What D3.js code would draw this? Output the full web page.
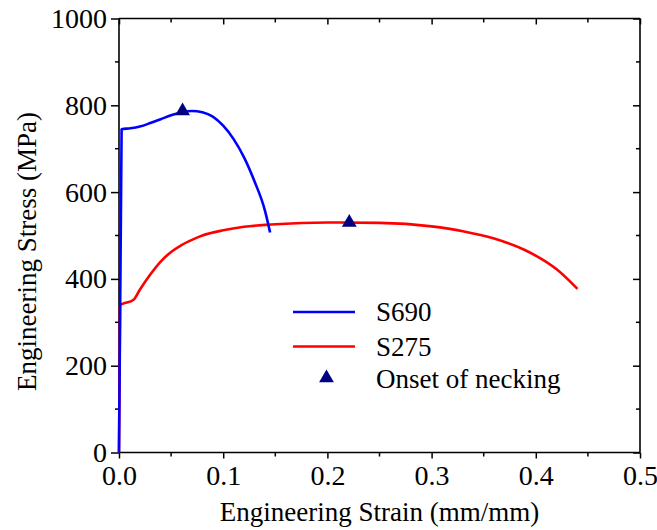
<!DOCTYPE html>
<html>
<head>
<meta charset="utf-8">
<script src="https://cdn.jsdelivr.net/npm/d3@7"></script>
<style>
  html, body { margin: 0; padding: 0; background: #fff; }
  svg { display: block; }
</style>
</head>
<body>
<svg id="chart" width="657" height="530"></svg>
<script>
// Engineering stress–strain curves for two structural steels
const s690Strain = [0, 0.0025, 0.011, 0.02, 0.03, 0.04, 0.05, 0.06, 0.07, 0.08, 0.09, 0.1, 0.11, 0.12, 0.13, 0.14, 0.145];
const s690Stress = [0, 745, 747, 751, 759, 768, 777, 784, 787, 784, 774, 753, 722, 680, 625, 558, 507];

const s275Strain = [0, 0.001, 0.004, 0.014, 0.02, 0.03, 0.04, 0.05, 0.06, 0.07, 0.08, 0.1, 0.12, 0.15, 0.2, 0.25, 0.3, 0.33, 0.36, 0.39, 0.42, 0.44];
const s275Stress = [0, 340, 343, 352, 375, 410, 440, 462, 478, 490, 500, 512, 520, 526, 530, 529, 521, 510, 493, 466, 422, 377];

// Onset of necking markers
const neckStrain = [0.061, 0.221];
const neckStress = [787, 530];

const xTicks = [0, 0.1, 0.2, 0.3, 0.4, 0.5];
const xMinor = [0.05, 0.15, 0.25, 0.35, 0.45];
const yTicks = [0, 200, 400, 600, 800, 1000];
const yMinor = [100, 300, 500, 700, 900];

const seriesNames = ["S690", "S275"];
const seriesColors = ["#0000ff", "#ff0000"];
const markerName = "Onset of necking";
const markerColor = "#000080";

const svg = d3.select("#chart");
const margin = { left: 119, right: 17, top: 18.5, bottom: 77.5 };
const W = 657, H = 530;
const serif = "'Liberation Serif', 'Times New Roman', serif";

const x = d3.scaleLinear().domain([0, 0.5]).range([margin.left, W - margin.right]);
const y = d3.scaleLinear().domain([0, 1000]).range([H - margin.bottom, margin.top]);

const fs = 28;

// Axes
const axBottom = svg.append("g").attr("transform", `translate(0,${y(0)})`)
  .call(d3.axisBottom(x).tickValues(xTicks).tickSize(6).tickPadding(7).tickFormat(d3.format(".1f")));
const axTop = svg.append("g").attr("transform", `translate(0,${y(1000)})`)
  .call(d3.axisBottom(x).tickValues(xTicks).tickSize(6).tickFormat(""));
const axLeft = svg.append("g").attr("transform", `translate(${x(0)},0)`)
  .call(d3.axisLeft(y).tickValues(yTicks).tickSize(8).tickPadding(4).tickFormat(d3.format("d")));
const axRight = svg.append("g").attr("transform", `translate(${x(0.5)},0)`)
  .call(d3.axisLeft(y).tickValues(yTicks).tickSize(7).tickFormat(""));

// Minor ticks
[axBottom, axTop].forEach(g => {
  g.selectAll(".minor").data(xMinor).enter().append("line").attr("class", "minor")
    .attr("x1", d => x(d)).attr("x2", d => x(d)).attr("y1", 0).attr("y2", 4);
});
[axLeft, axRight].forEach(g => {
  g.selectAll(".minor").data(yMinor).enter().append("line").attr("class", "minor")
    .attr("y1", d => y(d)).attr("y2", d => y(d)).attr("x1", 0).attr("x2", -4);
});

[axBottom, axTop, axLeft, axRight].forEach(g => {
  const horiz = (g === axBottom || g === axTop);
  g.attr("font-family", null).attr("font-size", null);
  g.select(".domain").attr("stroke", "#000").attr("stroke-width", 1.6)
    .attr("d", horiz ? `M${x(0)},0H${x(0.5)}` : `M0,${y(0)}V${y(1000)}`);
  g.selectAll("line").attr("stroke", "#000").attr("stroke-width", 1.5);
  g.selectAll("text").attr("fill", "#000")
    .style("font-family", serif).style("font-size", fs + "px");
});

// Axis titles
svg.append("text")
  .attr("x", (x(0) + x(0.5)) / 2).attr("y", 521)
  .attr("text-anchor", "middle")
  .style("font-family", serif).style("font-size", "27px")
  .text("Engineering Strain (mm/mm)");
svg.append("text")
  .attr("transform", `translate(36,${(y(0) + y(1000)) / 2 + 16}) rotate(-90)`)
  .attr("text-anchor", "middle")
  .style("font-family", serif).style("font-size", "27px")
  .text("Engineering Stress (MPa)");

// Curves
const line = d3.line().x(d => x(d[0])).y(d => y(d[1])).curve(d3.curveMonotoneX);
const curves = [d3.zip(s690Strain, s690Stress), d3.zip(s275Strain, s275Stress)];

// S275 drawn first so S690 sits on top
[1, 0].forEach(i => {
  svg.append("path").datum(curves[i])
    .attr("fill", "none").attr("stroke", seriesColors[i]).attr("stroke-width", 2.6)
    .attr("stroke-linejoin", "round")
    .attr("d", line);
});

// Necking markers
const tri = d3.symbol().type(d3.symbolTriangle).size(95);
svg.selectAll(".neck").data(d3.zip(neckStrain, neckStress)).enter().append("path")
  .attr("class", "neck")
  .attr("transform", d => `translate(${x(d[0])},${y(d[1])})`)
  .attr("d", tri).attr("fill", markerColor);

// Legend
const lg = svg.append("g");
seriesNames.forEach((n, i) => {
  const yy = 312 + i * 34.5;
  lg.append("line").attr("x1", 293).attr("x2", 355).attr("y1", yy).attr("y2", yy)
    .attr("stroke", seriesColors[i]).attr("stroke-width", 2.6);
  lg.append("text").attr("x", 376).attr("y", yy + 9)
    .style("font-family", serif).style("font-size", "27px").text(n);
});
lg.append("path").attr("transform", "translate(326.5,378)").attr("d", tri).attr("fill", markerColor);
lg.append("text").attr("x", 376).attr("y", 388)
  .style("font-family", serif).style("font-size", "27px").text(markerName);
</script>
</body>
</html>
